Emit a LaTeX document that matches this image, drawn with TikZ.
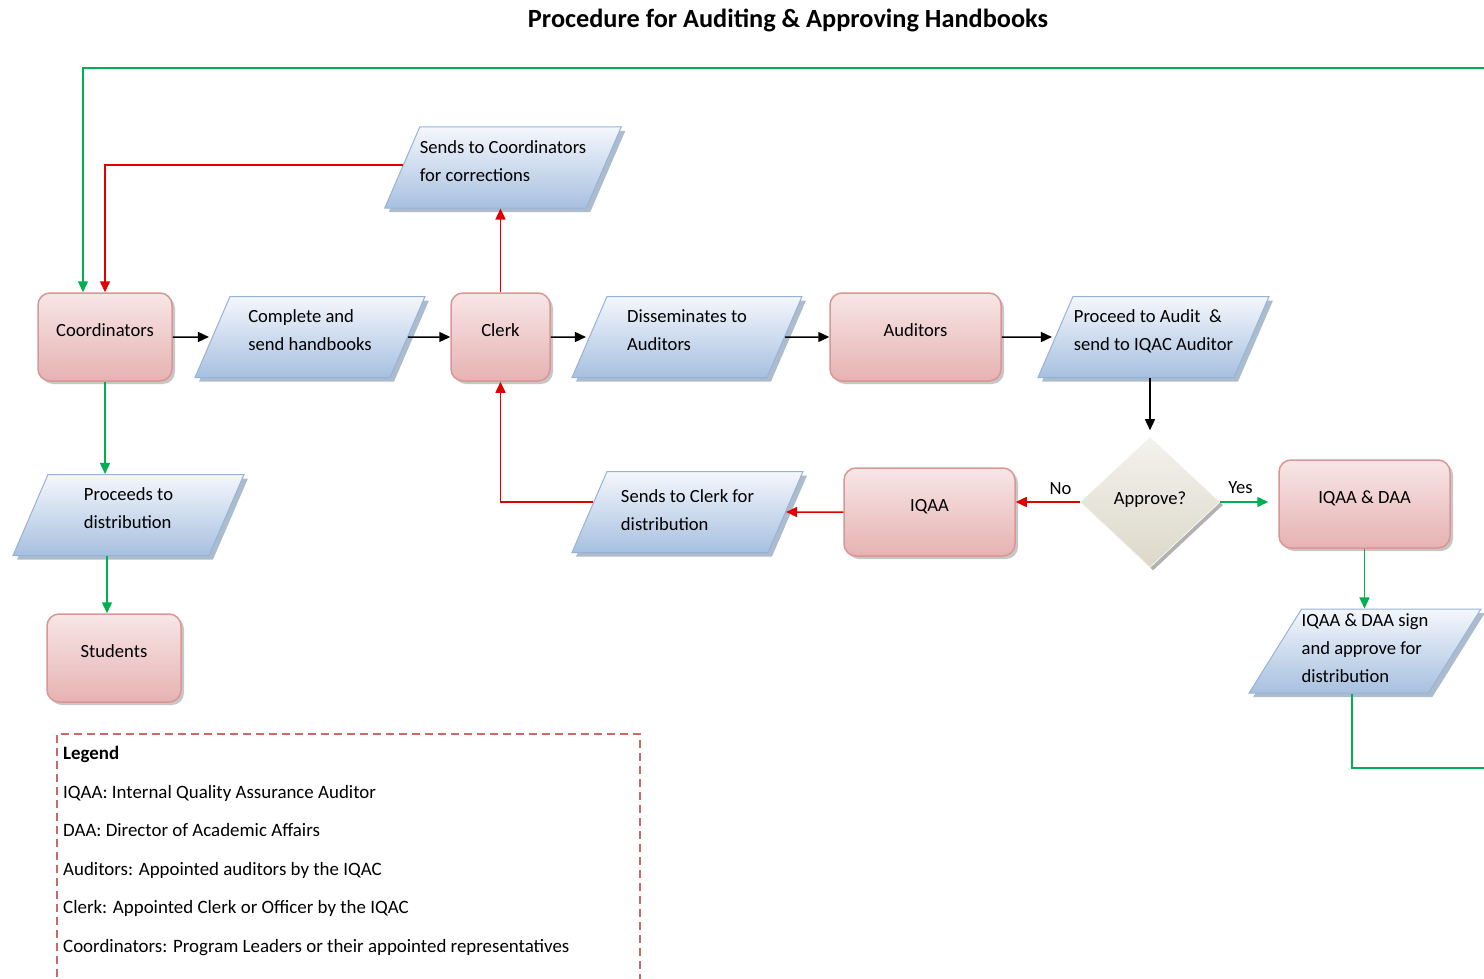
\documentclass[tikz,border=0pt]{standalone}
\usepackage{fontspec}
\setmainfont{Carlito}
\usetikzlibrary{shapes.geometric,arrows.meta,shadows,calc}
\definecolor{pinkline}{HTML}{D99694}
\definecolor{pinktop}{HTML}{F8E6E6}
\definecolor{pinkbot}{HTML}{E6B2B2}
\definecolor{blueline}{HTML}{95B3D7}
\definecolor{bluetop}{HTML}{F4F7FC}
\definecolor{bluebot}{HTML}{A7C0E0}
\definecolor{diatop}{HTML}{F3F2EC}
\definecolor{diabot}{HTML}{DCD8CA}
\definecolor{gline}{HTML}{00B050}
\definecolor{rline}{HTML}{E00000}
\definecolor{legline}{HTML}{C0504D}
\newcommand{\nodefont}{\fontsize{18.6}{28}\selectfont}
\newcommand{\T}[1]{\raisebox{6pt}[\height][\depth]{\begin{tabular}{@{}l@{}}#1\end{tabular}}}
\begin{document}
\begin{tikzpicture}[x=1pt,y=-1pt,
  txt/.style={font=\nodefont, text=black, inner sep=0pt},
  proc/.style={txt, rectangle, rounded corners=12pt, draw=pinkline, line width=1.5pt,
    top color=pinktop, bottom color=pinkbot, minimum height=88pt,
    drop shadow={shadow xshift=3pt, shadow yshift=-3pt, fill=black, opacity=.22}},
  para/.style={txt, trapezium, trapezium left angle=58, trapezium right angle=122,
    trapezium stretches body, draw=blueline, line width=1pt,
    top color=bluetop, bottom color=bluebot, minimum width=230pt, minimum height=81pt,
    drop shadow={shadow xshift=4pt, shadow yshift=-4pt, fill=blueline!80!black, opacity=.6}},
  deci/.style={txt, diamond, draw=white, line width=0.6pt, top color=diatop, bottom color=diabot,
    minimum width=140pt, minimum height=131pt,
    drop shadow={shadow xshift=3pt, shadow yshift=-3pt, fill=black, opacity=.3}},
  conn/.style={line width=1.5pt, -{Triangle[length=11pt,width=10pt]}},
  blk/.style={conn, draw=black},
  grn/.style={conn, draw=gline, color=gline},
  rd/.style={conn, draw=rline, color=rline},
  lab/.style={font=\nodefont, text=black, inner sep=2pt}
]
\useasboundingbox (0,0) rectangle (1484,979);

% title
\node[font=\fontsize{26.3}{30}\selectfont\bfseries, anchor=base] (title) at (788,28) {Procedure for Auditing \& Approving Handbooks};

% nodes
\node[proc, minimum width=134pt] (coord) at (105,337) {\T{Coordinators}};
\node[para] (complete) at (310,337) {\T{Complete and\\send handbooks}};
\node[proc, minimum width=99pt] (clerk) at (500.5,337) {\T{Clerk}};
\node[para] (sendscoord) at (503,167.5) {\T{Sends to Coordinators\\for corrections}};
\node[para] (dissem) at (687,337) {\T{Disseminates to\\Auditors}};
\node[proc, minimum width=171pt] (auditors) at (915.5,337) {\T{Auditors}};
\node[para, minimum width=231pt] (proceed) at (1153.5,337) {\T{Proceed to Audit~ \&\\send to IQAC Auditor}};
\node[deci] (approve) at (1150,502) {\raisebox{8pt}{Approve?}};
\node[proc, minimum width=171pt] (iqdaa) at (1364.5,504) {\T{IQAA \& DAA}};
\node[para] (sign) at (1365,651) {\raisebox{2pt}[\height][\depth]{\begin{tabular}{@{}l@{}}IQAA \& DAA sign\\and approve for\\distribution\end{tabular}}};
\node[proc, minimum width=171pt] (iqaa) at (929.5,512) {\T{IQAA}};
\node[para, minimum width=231pt] (sendsclerk) at (687.5,512) {\raisebox{1pt}[\height][\depth]{\begin{tabular}{@{}l@{}}Sends to Clerk for\\distribution\end{tabular}}};
\node[para, minimum width=231pt] (dist) at (128.5,515) {\T{Proceeds to\\distribution}};
\node[proc, minimum width=134pt] (students) at (114,658) {\T{Students}};

% helper coordinates
\coordinate (scc) at ($(sendscoord.bottom left corner)!0.53!(sendscoord.top left corner)$);
\coordinate (scl) at ($(sendsclerk.bottom left corner)!0.62!(sendsclerk.top left corner)$);
\coordinate (gin) at ($(coord.north)+(-22,0)$);
\coordinate (sgo) at ($(sign.south)+(-13,0)$);
\coordinate (sto) at ($(students.north)+(-7,0)$);
\coordinate (gbr) at (1484,768);
\coordinate (gtr) at (1484,68);

% black flow
\draw[blk, shorten >=3pt] (coord) -- (complete);
\draw[blk] (complete) -- (clerk);
\draw[blk, shorten >=3pt] (clerk) -- (dissem);
\draw[blk] (dissem) -- (auditors);
\draw[blk, shorten >=3pt] (auditors) -- (proceed);
\draw[blk, shorten >=6pt] (approve.north |- proceed.south) -- (approve.north);

% decisions
\draw[rd] (approve.west) -- (approve.west -| iqaa.east) node[lab, pos=0.3, above=5pt] (no) {No};
\draw[grn, shorten >=10pt] (approve.east) -- (approve.east -| iqdaa.west) node[lab, pos=0.35, above=6pt] (yes) {Yes};

% red loops
\draw[rd] (iqaa) -- (sendsclerk);
\draw[rd] (scl) -| (clerk.south);
\draw[rd] (clerk.north) -- (clerk.north |- sendscoord.south);
\draw[rd] (scc) -| (coord.north);

% green flows
\draw[grn] (iqdaa.south) -- (iqdaa.south |- sign.north);
\draw[line width=1.5pt, draw=gline] (sgo) |- (gbr);
\draw[grn] (gtr) -| (gin);
\draw[grn] (coord.south) -- (coord.south |- dist.north);
\draw[grn] (dist.south -| sto) -- (sto);

% legend
\draw[legline!85!white, line width=1.2pt, dash pattern=on 8pt off 5pt] (57,990) -- (57,734) -- (640,734) -- (640,990);
\node[txt, font=\fontsize{18.9}{22}\selectfont\bfseries, anchor=base west] (l0) at (63,759) {Legend};
\node[txt, font=\fontsize{18.9}{22}\selectfont, anchor=base west] (l1) at (63,798) {IQAA: Internal Quality Assurance Auditor};
\node[txt, font=\fontsize{18.9}{22}\selectfont, anchor=base west] (l2) at (63,836) {DAA: Director of Academic Affairs};
\node[txt, font=\fontsize{18.9}{22}\selectfont, anchor=base west] (l3) at (63,875) {Auditors: Appointed auditors by the IQAC};
\node[txt, font=\fontsize{18.9}{22}\selectfont, anchor=base west] (l4) at (63,913) {Clerk: Appointed Clerk or Officer by the IQAC};
\node[txt, font=\fontsize{18.9}{22}\selectfont, anchor=base west] (l5) at (63,952) {Coordinators: Program Leaders or their appointed representatives};
\end{tikzpicture}
\end{document}
